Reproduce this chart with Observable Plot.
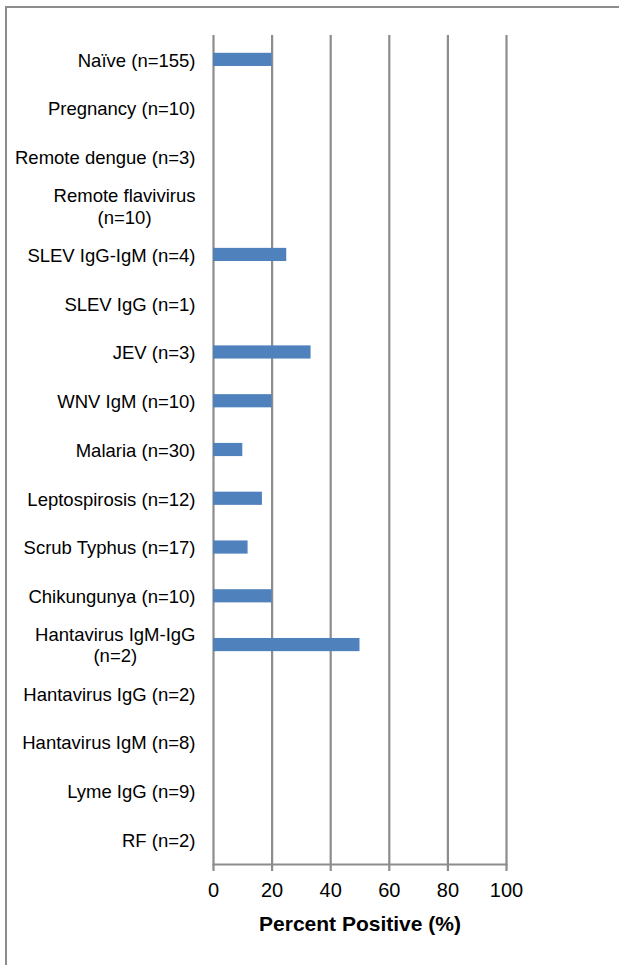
<!DOCTYPE html>
<html>
<head>
<meta charset="utf-8">
<script src="https://cdn.jsdelivr.net/npm/d3@7"></script>
<script src="https://cdn.jsdelivr.net/npm/@observablehq/plot@0.6"></script>
<style>
  html, body { margin: 0; padding: 0; background: #fff; overflow: hidden; }
  #frame { position: absolute; left: 5px; top: 6px; width: 700px; height: 1100px;
           border-left: 2px solid #8c8c8c; border-top: 2px solid #8c8c8c; }
  #chart { position: absolute; left: 0; top: 0; }
  #chart svg { font-family: "Liberation Sans", Arial, sans-serif; }
  #chart g[aria-label="x-axis label"] text { font-weight: bold; font-size: 21px; fill: #000; }
</style>
</head>
<body>
<div id="frame"></div>
<div id="chart"></div>
<script>
const categories = [
  "Naïve (n=155)", "Pregnancy (n=10)", "Remote dengue (n=3)", "Remote flavivirus (n=10)",
  "SLEV IgG-IgM (n=4)", "SLEV IgG (n=1)", "JEV (n=3)", "WNV IgM (n=10)", "Malaria (n=30)",
  "Leptospirosis (n=12)", "Scrub Typhus (n=17)", "Chikungunya (n=10)",
  "Hantavirus IgM-IgG (n=2)", "Hantavirus IgG (n=2)", "Hantavirus IgM (n=8)",
  "Lyme IgG (n=9)", "RF (n=2)"
];
const percentPositive = [20, 0, 0, 0, 25, 0, 33.3, 20, 10, 16.7, 11.8, 20, 50, 0, 0, 0, 0];
const xTicks = [0, 20, 40, 60, 80, 100];
const wrapped = {
  "Remote flavivirus (n=10)": "Remote flavivirus\n(n=10)",
  "Hantavirus IgM-IgG (n=2)": "Hantavirus IgM-IgG\n(n=2)"
};

const data = categories.map((c, i) => ({category: c, value: percentPositive[i]}));
const grey = "#8c8c8c";

const chart = Plot.plot({
  width: 619,
  height: 965,
  marginLeft: 213,
  marginRight: 113,
  marginTop: 35,
  marginBottom: 101,
  style: {fontFamily: "Liberation Sans, Arial, sans-serif", background: "transparent"},
  x: {domain: [0, 100], ticks: xTicks},
  y: {domain: categories, paddingInner: 0.73, paddingOuter: 0.365, round: false},
  marks: [
    Plot.gridX(xTicks, {stroke: grey, strokeOpacity: 1, strokeWidth: 2.2}),
    Plot.barX(data, {x: "value", y: "category", fill: "#4F81BD"}),
    Plot.frame({anchor: "bottom", stroke: grey, strokeWidth: 2.2}),
    Plot.axisX({
      ticks: xTicks, tickSize: 7, tickPadding: 11, stroke: grey, strokeWidth: 2.2, strokeOpacity: 1,
      fontSize: 20, fill: "#000",
      label: "Percent Positive (%)", labelAnchor: "center", labelArrow: "none", labelOffset: 66
    }),
    Plot.axisY({
      tickSize: 0, tickPadding: 18, fontSize: 18.5, fill: "#000", label: null,
      lineHeight: 1.15,
      tickFormat: d => wrapped[d] ?? d
    })
  ]
});
document.getElementById("chart").appendChild(chart);

// centre the lines of wrapped tick labels within their block (as in the source)
chart.querySelectorAll('g[aria-label="y-axis tick label"] text').forEach(t => {
  if (t.querySelectorAll("tspan").length > 1) {
    const w = t.getBBox().width;
    t.setAttribute("text-anchor", "middle");
    const tr = t.getAttribute("transform") || "";
    t.setAttribute("transform", tr + ` translate(${-w / 2},0)`);
  }
});
</script>
</body>
</html>
